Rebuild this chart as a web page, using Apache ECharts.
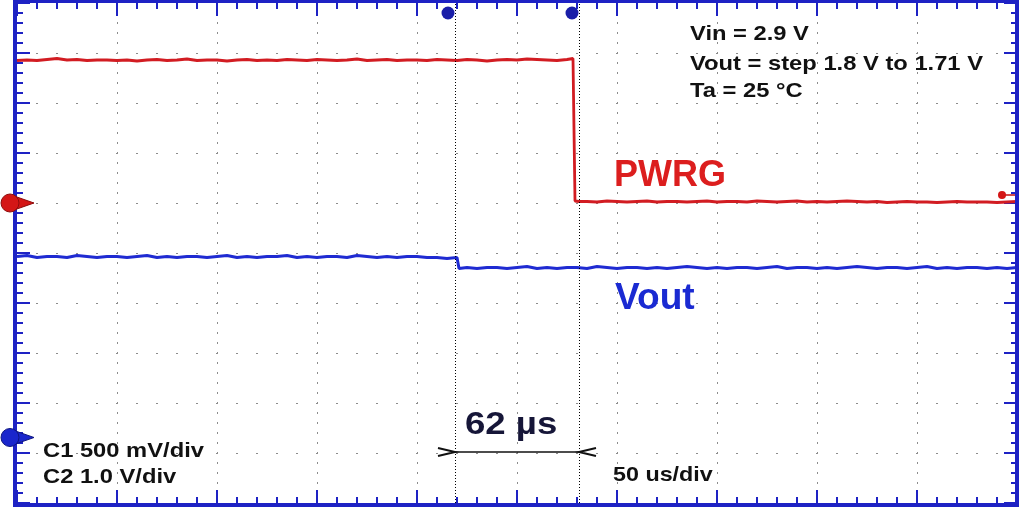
<!DOCTYPE html>
<html>
<head>
<meta charset="utf-8">
<script src="https://cdn.jsdelivr.net/npm/echarts@6/dist/echarts.min.js"></script>
<style>html,body{margin:0;padding:0;background:#fff;}#c{width:1024px;height:512px;}</style>
</head>
<body>
<div id="c"></div>
<script>
// ---- Data (time in µs, 50 µs/div; voltages in V) ----
const tPwrg = [0,5,10,15,20,25,30,35,40,45,50,55,60,65,70,75,80,85,90,95,100,105,110,115,120,125,130,135,140,145,150,155,160,165,170,175,180,185,190,195,200,205,210,215,220,225,230,235,240,245,250,255,260,265,270,275,
  278,279,279,281,
  285,290,295,300,305,310,315,320,325,330,335,340,345,350,355,360,365,370,375,380,385,390,395,400,405,410,415,420,425,430,435,440,445,450,455,460,465,470,475,480,485,490,495,500];
const vPwrg = [2.85,2.86,2.85,2.87,2.89,2.86,2.87,2.85,2.86,2.86,
  2.85,2.86,2.84,2.86,2.87,2.85,2.86,2.88,2.85,2.86,
  2.86,2.84,2.86,2.87,2.85,2.86,2.85,2.87,2.86,2.85,
  2.87,2.86,2.85,2.86,2.88,2.85,2.86,2.87,2.85,2.86,
  2.86,2.85,2.87,2.86,2.85,2.87,2.86,2.84,2.86,2.87,
  2.86,2.88,2.87,2.86,2.85,2.87,
  2.89,2.86,0.04,0.03,
  0.03,0.02,0.04,0.03,0.02,0.03,0.04,0.02,0.03,0.03,
  0.02,0.03,0.04,0.02,0.03,0.03,0.02,0.04,0.03,0.02,
  0.03,0.04,0.02,0.03,0.02,0.03,0.04,0.03,0.02,0.03,
  0.01,0.02,0.03,0.02,0.02,0.01,0.02,0.03,0.02,0.02,
  0.02,0.01,0.02,0.03];

const tVout = [0,5,10,15,20,25,30,35,40,45,50,55,60,65,70,75,80,85,90,95,100,105,110,115,120,125,130,135,140,145,150,155,160,165,170,175,180,185,190,195,200,205,210,215,220,
  221,
  225,230,235,240,245,250,255,260,265,270,275,280,285,290,295,300,305,310,315,320,325,330,335,340,345,350,355,360,365,370,375,380,385,390,395,400,405,410,415,420,425,430,435,440,445,450,455,460,465,470,475,480,485,490,495,500];
const vVout = [1.81,1.82,1.80,1.81,1.81,1.80,1.82,1.81,1.80,1.81,
  1.81,1.80,1.81,1.82,1.80,1.81,1.80,1.81,1.81,1.80,
  1.81,1.82,1.80,1.81,1.80,1.81,1.81,1.82,1.80,1.81,
  1.80,1.81,1.81,1.80,1.82,1.81,1.80,1.81,1.80,1.81,
  1.81,1.80,1.80,1.79,1.80,
  1.69,
  1.70,1.69,1.70,1.70,1.69,1.70,1.71,1.69,1.70,1.69,
  1.70,1.70,1.69,1.71,1.70,1.69,1.70,1.70,1.69,1.70,
  1.69,1.70,1.71,1.70,1.69,1.70,1.69,1.70,1.70,1.69,
  1.70,1.71,1.69,1.70,1.70,1.69,1.70,1.69,1.70,1.71,
  1.70,1.69,1.70,1.70,1.69,1.70,1.71,1.69,1.70,1.69,
  1.70,1.70,1.69,1.70,1.69,1.70];

const cursorTimes = [219, 281];
const infoLines = ['Vin = 2.9 V', 'Vout = step 1.8 V to 1.71 V', 'Ta = 25 °C'];
const scaleLines = ['C1 500 mV/div', 'C2 1.0 V/div'];
const timebaseLabel = '50 us/div';
const deltaLabel = '62 µs';
const triggerLevelC2 = 0.16;

// ---- styling ----
const BLUE = '#1e22c4';
const RED = '#d21c22';
const TRACE_BLUE = '#1f2bd2';
const GRID_DOT = '#8c8c8c';
const G = {left: 17, top: 3, width: 1000, height: 500};

const chart = echarts.init(document.getElementById('c'), null, {renderer: 'canvas'});

function tickAxis(extra) {
  return Object.assign({
    type: 'value',
    axisLine: {show: false, onZero: false},
    axisLabel: {show: false},
    axisTick: {show: true, inside: true, length: 13, lineStyle: {color: BLUE, width: 2}},
    minorTick: {show: true, splitNumber: 5, length: 6, lineStyle: {color: BLUE, width: 2}},
    splitLine: {show: false},
    minorSplitLine: {show: false}
  }, extra);
}

chart.setOption({
  animation: false,
  backgroundColor: '#ffffff',
  grid: Object.assign({show: false, containLabel: false}, G),
  xAxis: [
    tickAxis({position: 'bottom', min: 0, max: 500, interval: 50,
      splitLine: {show: true, showMinLine: false, showMaxLine: false,
        lineStyle: {color: GRID_DOT, width: 1, type: [2, 8], dashOffset: 1}}}),
    tickAxis({position: 'top', min: 0, max: 500, interval: 50})
  ],
  yAxis: [
    tickAxis({position: 'left', min: 0, max: 10, interval: 1,
      splitLine: {show: true, showMinLine: false, showMaxLine: false,
        lineStyle: {color: GRID_DOT, width: 1, type: [2, 18], dashOffset: 1}}}),
    tickAxis({position: 'right', min: 0, max: 10, interval: 1}),
    {type: 'value', show: false, min: -0.655, max: 4.345, axisLine: {onZero: false}},  // C1 500 mV/div
    {type: 'value', show: false, min: -6, max: 4, axisLine: {onZero: false}}            // C2 1.0 V/div
  ],
  series: [
    {
      name: 'Vout', type: 'line', xAxisIndex: 0, yAxisIndex: 2,
      data: tVout.map((t, i) => [t, vVout[i]]),
      showSymbol: false, symbol: 'none',
      lineStyle: {color: TRACE_BLUE, width: 3}, z: 3
    },
    {
      name: 'PWRG', type: 'line', xAxisIndex: 0, yAxisIndex: 3,
      data: tPwrg.map((t, i) => [t, vPwrg[i]]),
      showSymbol: false, symbol: 'none',
      lineStyle: {color: RED, width: 2.8}, z: 4,
      markLine: {
        silent: true, symbol: 'none', label: {show: false},
        lineStyle: {color: '#000', width: 1, type: [1, 2]},
        data: cursorTimes.map(t => ({xAxis: t}))
      }
    },
    {
      name: 'cursorHandles', type: 'scatter', xAxisIndex: 0, yAxisIndex: 0,
      data: cursorTimes.map(t => [t, 9.8]),
      symbol: 'circle', symbolSize: 13, symbolOffset: [-7, 0],
      itemStyle: {color: '#1a1ea8', opacity: 1}, z: 6, silent: true
    }
  ]
});

// ---- decorations positioned through the axes ----
const xPix = v => chart.convertToPixel({xAxisIndex: 0}, v);
const yDiv = v => chart.convertToPixel({yAxisIndex: 0}, v);
const yC1 = v => chart.convertToPixel({yAxisIndex: 2}, v);
const yC2 = v => chart.convertToPixel({yAxisIndex: 3}, v);

const x0 = xPix(0), x1 = xPix(500);
const y0 = yDiv(10), yb = yDiv(0);

function groundMarker(cy, color, dark) {
  const cx = x0 - 7;
  return [
    {type: 'polygon', shape: {points: [[cx + 4, cy - 7], [cx + 24, cy], [cx + 4, cy + 7]]},
      style: {fill: color, stroke: dark, lineWidth: 1}, z: 20},
    {type: 'circle', shape: {cx: cx, cy: cy, r: 9},
      style: {fill: color, stroke: dark, lineWidth: 1}, z: 21}
  ];
}

function txt(text, x, y, size, color, sx) {
  return {
    type: 'text', x: x, y: y, scaleX: sx || 1, z: 30,
    style: {text: text, fill: color, fontSize: size, fontWeight: 'bold',
      fontFamily: '"Liberation Sans", Arial, sans-serif', verticalAlign: 'middle', align: 'left'}
  };
}

const cA = xPix(cursorTimes[0]), cB = xPix(cursorTimes[1]);
const my = yDiv(1.02);
const trigY = yC2(triggerLevelC2);

const graphics = [
  // frame
  {type: 'rect', shape: {x: x0 - 2, y: y0 - 2, width: (x1 - x0) + 2, height: (yb - y0) + 4},
    style: {fill: null, stroke: BLUE, lineWidth: 4}, z: 15},
  // ground markers
  ...groundMarker(yC2(0), '#d41616', '#8e0c0c'),
  ...groundMarker(yC1(0), '#1a26cc', '#0e1680'),
  // trigger level marker
  {type: 'line', shape: {x1: x1 - 15, y1: trigY, x2: x1 - 2, y2: trigY}, style: {stroke: '#c41010', lineWidth: 1.5}, z: 20},
  {type: 'circle', shape: {cx: x1 - 15, cy: trigY, r: 4}, style: {fill: '#d41616'}, z: 21},
  // delta measurement
  {type: 'line', shape: {x1: cA, y1: my, x2: cB, y2: my}, style: {stroke: '#111', lineWidth: 1.5}, z: 20},
  {type: 'polyline', shape: {points: [[cA - 17, my - 4], [cA, my], [cA - 17, my + 4]]}, style: {stroke: '#111', lineWidth: 2, fill: null}, z: 20},
  {type: 'polyline', shape: {points: [[cB + 17, my - 4], [cB, my], [cB + 17, my + 4]]}, style: {stroke: '#111', lineWidth: 2, fill: null}, z: 20},
  // texts
  txt(infoLines[0], 690, 34, 21, '#111', 1.13),
  txt(infoLines[1], 690, 64, 21, '#111', 1.13),
  txt(infoLines[2], 690, 91, 21, '#111', 1.13),
  txt('PWRG', 614, 176, 36, '#dc1e1e', 1.0),
  txt('Vout', 615, 299, 36, '#1a2ad2', 1.03),
  txt(deltaLabel, 465, 425, 31, '#161638', 1.18),
  txt(scaleLines[0], 43, 451, 21, '#111', 1.13),
  txt(scaleLines[1], 43, 477, 21, '#111', 1.13),
  txt(timebaseLabel, 613, 475, 21, '#111', 1.11)
];

chart.setOption({graphic: graphics});
</script>
</body>
</html>
